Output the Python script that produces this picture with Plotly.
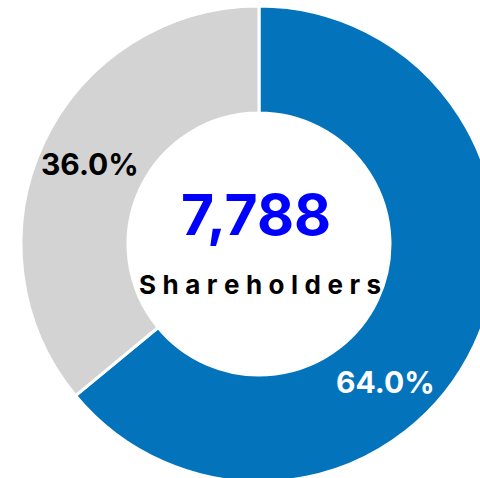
import math
import plotly.graph_objects as go

# ── data ──────────────────────────────────────────────
labels = ["Group A", "Group B"]
shares = [64.0, 36.0]
colors = ["#0374BC", "#D3D3D3"]
label_colors = ["white", "black"]
total_holders = 7788
center_caption = "Shareholders"

# ── geometry (px of the figure canvas) ────────────────
W, H = 518, 488
CX, CY = 259, 244
R_OUT, R_IN = 238, 131
FONT = "Inter"

def px_to_paper(x, y):
    return x / W, 1 - y / H

fig = go.Figure(go.Pie(
    labels=labels,
    values=shares,
    hole=R_IN / R_OUT,
    sort=False,
    direction="clockwise",
    rotation=0,
    marker=dict(colors=colors, line=dict(color="white", width=3)),
    textinfo="none",
    hoverinfo="skip",
    showlegend=False,
    domain=dict(x=[(CX - R_OUT) / W, (CX + R_OUT) / W],
                y=[1 - (CY + R_OUT) / H, 1 - (CY - R_OUT) / H]),
))

# slice labels (percent computed from the data)
label_angles = [137.5, None]  # first label sits lower than the bisector
total = sum(shares)
start = 0.0
for i, v in enumerate(shares):
    span = v / total * 360
    ang = label_angles[i] if label_angles[i] is not None else start + span / 2
    r_mid = 187
    x = CX + r_mid * math.sin(math.radians(ang))
    y = CY - r_mid * math.cos(math.radians(ang))
    px, py = px_to_paper(x, y)
    fig.add_annotation(
        text=f"{v / total * 100:.1f}%", x=px, y=py, xref="paper", yref="paper",
        xanchor="center", yanchor="middle", showarrow=False,
        font=dict(family=FONT, size=30, color=label_colors[i], weight=700),
    )
    start += span

# centre text
px, py = px_to_paper(256, 214)
fig.add_annotation(
    text=f"{total_holders:,}", x=px, y=py, xref="paper", yref="paper",
    xanchor="center", yanchor="middle", showarrow=False,
    font=dict(family=FONT, size=57, color="#0000FF", weight=700),
)
px, py = px_to_paper(260, 284)
fig.add_annotation(
    text="\u2005".join(center_caption), x=px, y=py, xref="paper", yref="paper",
    xanchor="center", yanchor="middle", showarrow=False,
    font=dict(family=FONT, size=26, color="black", weight=700),
)

fig.update_layout(
    width=W, height=H,
    margin=dict(l=0, r=0, t=0, b=0),
    paper_bgcolor="white",
    plot_bgcolor="white",
)

fig.write_html(
    "out.html",
    config=dict(displayModeBar=False),
    post_script="document.body.style.margin='0';document.body.style.overflow='hidden';"
                "document.documentElement.style.overflow='hidden';",
)
